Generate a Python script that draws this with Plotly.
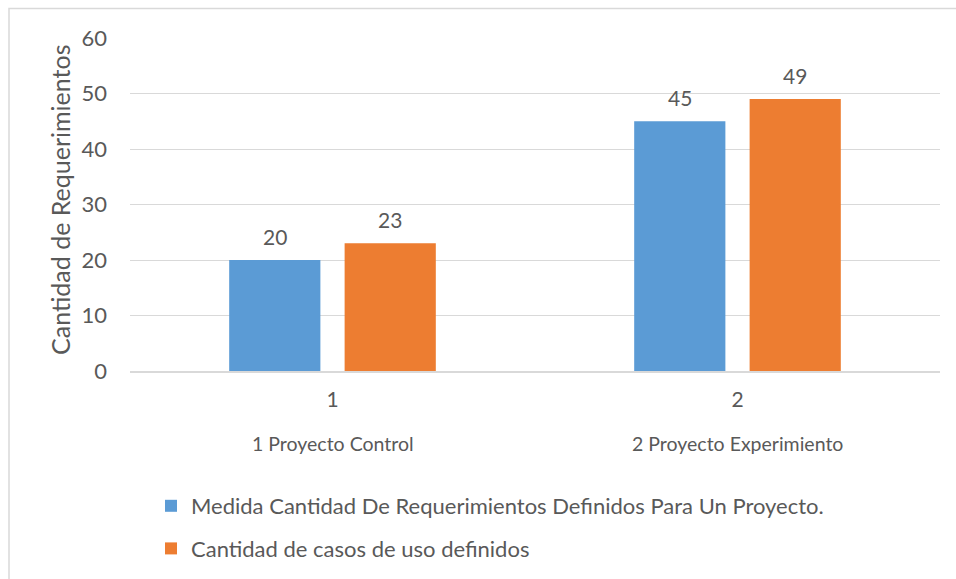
import plotly.graph_objects as go

categories = ["1", "2"]
group_labels = ["1 Proyecto Control", "2 Proyecto Experimiento"]
series_names = ["Medida Cantidad De Requerimientos Definidos Para Un Proyecto.",
                "Cantidad de casos de uso definidos"]
req_values = [20, 45]
casos_values = [23, 49]
y_ticks = [0, 10, 20, 30, 40, 50, 60]

FONT = "Lato, 'Open Sans', sans-serif"
TXT = "#595959"
GRID = "#D9D9D9"

L, R, T, B = 130, 16, 38, 208
W, H = 956, 579
pw, ph = W - L - R, H - T - B

BARGAP, GROUPGAP = 0.43, 0.21
cat_px = pw / len(categories)
slot_px = cat_px * (1 - BARGAP) / 2

fig = go.Figure()
fig.add_trace(go.Bar(x=categories, y=req_values, name=series_names[0],
                     marker=dict(color="#5B9BD5", line=dict(width=0)),
                     legendgroup="a", hoverinfo="y"))
fig.add_trace(go.Bar(x=categories, y=casos_values, name=series_names[1],
                     marker=dict(color="#ED7D31", line=dict(width=0)),
                     legendgroup="b", hoverinfo="y"))

annotations = []
# data labels above bars
for s, vals in enumerate([req_values, casos_values]):
    shift = (s - 0.5) * slot_px
    for j, v in enumerate(vals):
        annotations.append(dict(x=j, xref="x", y=v, yref="y", text=str(v), showarrow=False,
                                xshift=shift, yshift=9, yanchor="bottom", xanchor="center",
                                font=dict(size=21, color=TXT, family=FONT)))
for i, g in enumerate(group_labels):
    annotations.append(dict(x=i, xref="x", y=-(443 - 371) / ph, yref="paper",
                            text=g, showarrow=False, font=dict(size=19.5, color=TXT, family=FONT),
                            xanchor="center", yanchor="middle"))
annotations.append(dict(x=(60 - L) / pw, xref="paper", y=(371 - 200) / ph, yref="paper",
                        text="Cantidad de Requerimientos", textangle=-90, showarrow=False,
                        font=dict(size=25, color=TXT, family=FONT),
                        xanchor="center", yanchor="middle"))

fig.update_layout(
    width=W, height=H,
    margin=dict(l=L, r=R, t=T, b=B, autoexpand=False),
    paper_bgcolor="white", plot_bgcolor="white",
    barmode="group", bargap=BARGAP, bargroupgap=GROUPGAP,
    font=dict(family=FONT, color=TXT),
    showlegend=True,
    legend=dict(orientation="v", x=(151 - L) / pw, xanchor="left",
                y=-(485 - 371) / ph, yanchor="top",
                font=dict(size=22, color=TXT, family=FONT),
                tracegroupgap=11, itemwidth=30, bgcolor="rgba(0,0,0,0)"),
    xaxis=dict(type="category", range=[-0.5, 1.5], showgrid=False, automargin=False,
               showline=True, linecolor=GRID, linewidth=1.5,
               ticks="", tickfont=dict(size=21, color=TXT, family=FONT),
               ticklabelstandoff=9, fixedrange=True),
    yaxis=dict(range=[0, 60], tickvals=y_ticks, showgrid=True, gridcolor=GRID, gridwidth=1.3,
               zeroline=False, showline=False, ticks="", automargin=False,
               tickfont=dict(size=22, color=TXT, family=FONT), ticklabelstandoff=22),
    annotations=annotations,
    shapes=[dict(type="rect", xref="paper", yref="paper",
                 x0=(9 - L) / pw, x1=(970 - L) / pw,
                 y0=-(600 - (H - B)) / ph, y1=1 + (T - 8.5) / ph,
                 line=dict(color=GRID, width=1.5), fillcolor="rgba(0,0,0,0)", layer="below")],
)

fig.write_html("out.html")
